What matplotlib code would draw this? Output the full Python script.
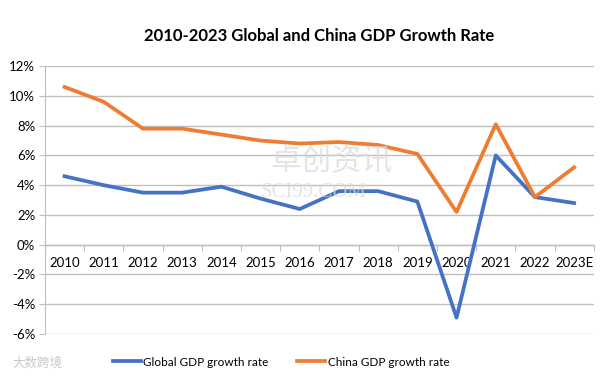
import matplotlib
matplotlib.use("Agg")
import matplotlib.pyplot as plt
from matplotlib.ticker import FixedLocator, FuncFormatter
import numpy as np

plt.rcParams['font.family'] = ['Lato', 'Noto Sans CJK SC', 'DejaVu Sans']

# data (%)
years = ['2010', '2011', '2012', '2013', '2014', '2015', '2016',
         '2017', '2018', '2019', '2020', '2021', '2022', '2023E']
global_gdp = [4.6, 4.0, 3.5, 3.5, 3.9, 3.1, 2.4, 3.6, 3.6, 2.9, -4.9, 6.0, 3.2, 2.8]
china_gdp = [10.6, 9.6, 7.8, 7.8, 7.4, 7.0, 6.8, 6.9, 6.7, 6.1, 2.2, 8.1, 3.2, 5.2]
y_ticks = [-6, -4, -2, 0, 2, 4, 6, 8, 10, 12]

blue = '#4472C4'
orange = '#ED7D31'
grid_col = '#BFBFBF'

fig = plt.figure(figsize=(6.14, 3.78), dpi=100)
ax = fig.add_axes([0.0733, 0.1164, 0.8937, 0.7086])

x = np.arange(len(years))
ax.plot(x, global_gdp, color=blue, lw=2.7, solid_joinstyle='round', label='Global GDP growth rate', zorder=3)
ax.plot(x, china_gdp, color=orange, lw=2.7, solid_joinstyle='round', label='China GDP growth rate', zorder=3)

ax.set_xlim(-0.5, len(years) - 0.5)
ax.set_ylim(-6, 12)

# y axis
ax.yaxis.set_major_locator(FixedLocator(y_ticks))
ax.yaxis.set_major_formatter(FuncFormatter(lambda v, p: f"{int(v)}%"))
ax.grid(axis='y', color=grid_col, lw=1.0, zorder=0)
ax.tick_params(axis='y', length=4, color=grid_col, labelsize=9.5, pad=3, labelcolor='#000000')

# x axis sits at 0 like Excel
for s in ['top', 'right']:
    ax.spines[s].set_visible(False)
ax.spines['left'].set_color(grid_col)
ax.spines['bottom'].set_position(('data', 0))
ax.spines['bottom'].set_color(grid_col)
ax.spines['bottom'].set_linewidth(1.0)
ax.set_xticks(np.arange(len(years) + 1) - 0.5)
ax.set_xticklabels([])
ax.set_xticks(x, minor=True)
ax.set_xticklabels(years, minor=True)
ax.tick_params(axis='x', which='major', length=4, color=grid_col, direction='out')
ax.tick_params(axis='x', which='minor', length=0, labelsize=9.5, pad=9)

# faint watermark
fig.text(0.44, 0.575, '\u5353\u521b\u8d44\u8baf', fontsize=22, color='#D9D9D9', alpha=0.7,
         ha='left', va='center', zorder=1)
fig.text(0.425, 0.49, 'SCI99.COM', fontsize=15, color='#D9D9D9', alpha=0.7,
         ha='left', va='center', zorder=1, family='Liberation Serif')
fig.text(0.02, 0.04, '\u5927\u6570\u8de8\u5883', fontsize=9, color='#C8C8C8', ha='left', va='center')

fig.suptitle('2010-2023 Global and China GDP Growth Rate', x=0.52, y=0.925,
             fontsize=12, fontweight='bold')

ax.legend(loc='center', bbox_to_anchor=(0.43, -0.105), ncol=2, frameon=False,
          fontsize=8.5, handlelength=2.4, handletextpad=0.2, columnspacing=2.4)

fig.savefig('out.png', dpi=100)
